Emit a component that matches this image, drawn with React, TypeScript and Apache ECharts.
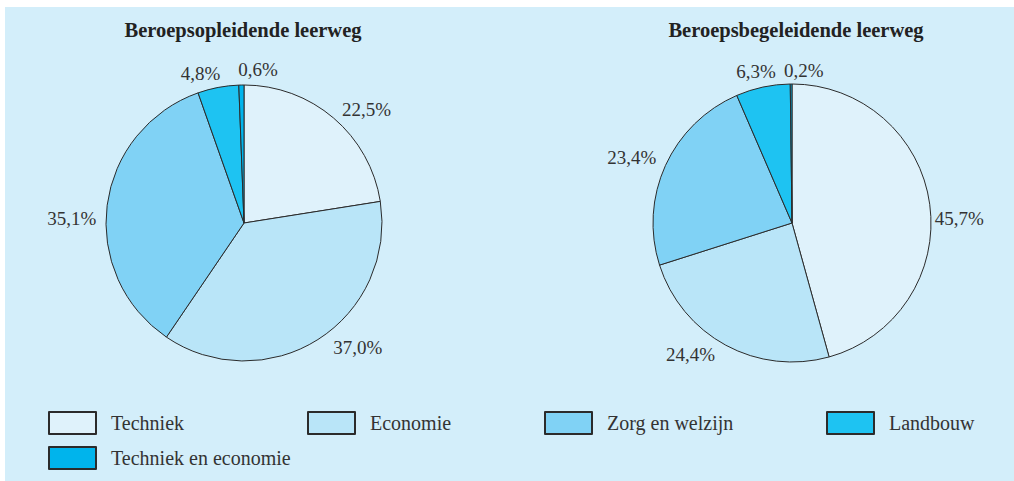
import React, { useEffect, useRef } from "react";
import * as echarts from "echarts";

const categories = ["Techniek", "Economie", "Zorg en welzijn", "Landbouw", "Techniek en economie"];
const colors = ["#dff2fb", "#b9e5f8", "#80d2f5", "#1ec3f2", "#00b4ec"];
const bolValues = [22.5, 37.0, 35.1, 4.8, 0.6];
const bblValues = [45.7, 24.4, 23.4, 6.3, 0.2];
const titles = ["Beroepsopleidende leerweg", "Beroepsbegeleidende leerweg"];

// hand-placed label nudges of the original figure (per series, per slice)
const labelNudges = [
  [
    { dx: -3, dy: -1 },
    { dx: 5, dy: 0 },
    { dx: 4, dy: 15 },
    { dx: 9, dy: -4 },
    { dx: 2, dy: -6, align: "left" },
  ],
  [
    { dx: -10, dy: 16 },
    { dx: -1, dy: 0 },
    { dx: 5, dy: -4 },
    { dx: 20, dy: -6 },
    { dx: -2, dy: -4, align: "left" },
  ],
];

const FONT = "'Liberation Serif', 'DejaVu Serif', serif";

export default function App() {
  const ref = useRef<HTMLDivElement>(null);
  useEffect(() => {
    if (!ref.current) return;
    const chart = echarts.init(ref.current, undefined, { renderer: "svg" });
    const mkData = (vals: number[]) =>
      vals.map((v, i) => ({
        name: categories[i],
        value: v,
        itemStyle: { color: colors[i] },
      }));
    const pieBase = {
      type: "pie",
      radius: 138,
      startAngle: 90,
      clockwise: true,
      avoidLabelOverlap: false,
      itemStyle: { borderColor: "#2b2b2b", borderWidth: 1 },
      label: {
        show: true,
        position: "outside",
        color: "#333",
        fontFamily: FONT,
        fontSize: 19,
        formatter: (p: any) => p.value.toFixed(1).replace(".", ",") + "%",
      },
      labelLine: { show: false, length: 10, length2: 0 },
      labelLayout: (p: any) => {
        const n = labelNudges[p.seriesIndex][p.dataIndex];
        const out: any = { dx: n.dx, dy: n.dy, hideOverlap: false };
        if ((n as any).align) out.align = (n as any).align;
        return out;
      },
      emphasis: { disabled: true },
    };
    const legendRows = [
      { names: [categories[0]], left: 48, top: 411 },
      { names: [categories[1]], left: 307, top: 411 },
      { names: [categories[2]], left: 544, top: 411 },
      { names: [categories[3]], left: 826, top: 411 },
      { names: [categories[4]], left: 48, top: 446 },
    ];
    const titleStyle = { fontFamily: FONT, fontWeight: "bold", fontSize: 20.5, color: "#222" };
    chart.setOption({
      animation: false,
      backgroundColor: "#ffffff",
      graphic: [
        {
          type: "rect",
          z: -10,
          shape: { x: 5, y: 7, width: 1009, height: 474 },
          style: { fill: "#d3eefa" },
          silent: true,
        },
      ],
      title: [
        { text: titles[0], left: 238, top: 14, textAlign: "center", textStyle: titleStyle },
        { text: titles[1], left: 791, top: 14, textAlign: "center", textStyle: titleStyle },
      ],
      legend: legendRows.map((r) => ({
        data: r.names,
        left: r.left,
        top: r.top,
        padding: 0,
        icon: "rect",
        itemWidth: 47,
        itemHeight: 22,
        selectedMode: false,
        textStyle: { fontFamily: FONT, fontSize: 20, color: "#333", padding: [0, 0, 0, 10] },
      })),
      series: [
        { ...pieBase, center: [244, 223], data: mkData(bolValues) },
        { ...pieBase, center: [792, 223], radius: 139, data: mkData(bblValues) },
      ],
    });
    return () => chart.dispose();
  }, []);
  return <div ref={ref} style={{ position: "fixed", left: 0, top: 0, width: 1014, height: 481 }} />;
}
